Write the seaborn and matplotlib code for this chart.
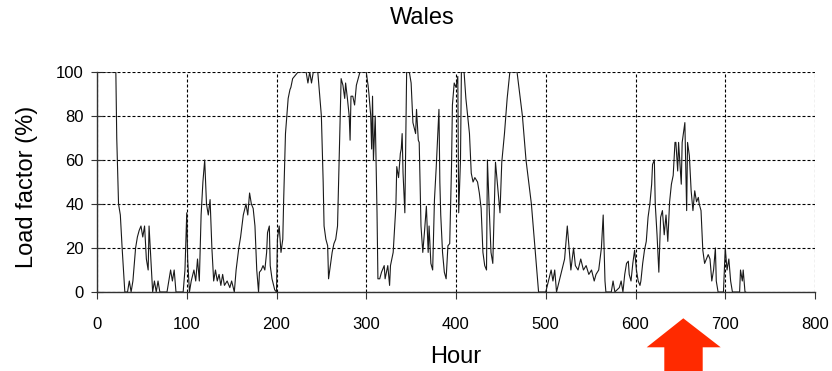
import matplotlib
matplotlib.use("Agg")
import matplotlib.pyplot as plt
import seaborn as sns
import pandas as pd
from matplotlib.patches import Polygon

# ---- data (hour, load factor %) ----
hours = [0, 21, 22, 24, 26, 28, 31, 34, 36, 38, 40, 43, 45, 47, 49, 51, 53, 55, 57, 58,
         60, 62, 64, 66, 68, 70, 78, 80, 82, 84, 86, 88, 96, 98, 100, 101, 103, 105, 108, 110,
         112, 114, 116, 118, 120, 122, 124, 126, 128, 130, 132, 134, 136, 138, 140, 142, 145, 148, 150, 153,
         155, 158, 160, 163, 166, 168, 170, 172, 174, 176, 178, 180, 181, 183, 185, 187, 189, 190, 192, 193,
         195, 198, 200, 201, 203, 205, 207, 208, 210, 213, 215, 216, 218, 220, 224, 233, 235, 237, 239, 241,
         246, 250, 252, 253, 255, 257, 258, 260, 262, 264, 266, 268, 272, 274, 276, 277, 279, 281, 282, 283,
         285, 287, 289, 291, 293, 300, 302, 303, 305, 306, 307, 308, 310, 312, 313, 315, 317, 320, 321, 324,
         326, 327, 330, 333, 334, 336, 338, 339, 340, 341, 343, 345, 348, 350, 352, 355, 356, 358, 359, 361,
         363, 365, 367, 369, 370, 372, 374, 376, 378, 380, 381, 382, 383, 385, 387, 389, 391, 393, 395, 396,
         398, 400, 402, 403, 405, 406, 409, 411, 413, 415, 417, 419, 421, 424, 426, 428, 430, 432, 434, 435,
         437, 439, 441, 444, 447, 449, 451, 454, 457, 460, 468, 471, 474, 476, 478, 481, 484, 486, 488, 490,
         492, 500, 503, 506, 508, 510, 512, 515, 518, 521, 524, 526, 528, 531, 533, 536, 539, 542, 545, 548,
         551, 554, 556, 559, 562, 564, 566, 567, 573, 575, 577, 582, 584, 586, 588, 590, 592, 593, 595, 597,
         599, 601, 603, 605, 606, 608, 610, 612, 614, 616, 618, 619, 621, 622, 624, 626, 628, 630, 632, 634,
         636, 638, 640, 642, 644, 645, 647, 648, 651, 652, 655, 657, 658, 660, 662, 664, 666, 668, 670, 671,
         673, 675, 677, 679, 681, 683, 685, 687, 689, 690, 692, 698, 700, 702, 704, 706, 708, 716, 717, 719,
         720, 722, 723]
load = [100, 100, 70, 40, 35, 20, 0, 0, 5, 0, 5, 20, 25, 28, 30, 25, 30, 15, 10, 30,
        15, 0, 5, 0, 5, 0, 0, 5, 10, 5, 10, 0, 0, 10, 36, 15, 0, 5, 10, 5,
        15, 5, 35, 50, 60, 40, 35, 42, 20, 5, 10, 5, 8, 3, 8, 3, 5, 2, 5, 0,
        10, 20, 25, 35, 40, 35, 45, 40, 38, 30, 10, 0, 9, 10, 12, 10, 18, 27, 30, 12,
        6, 1, 0, 24, 30, 18, 24, 42, 72, 88, 92, 93, 97, 98, 100, 100, 95, 100, 95, 100,
        100, 80, 50, 30, 24, 21, 6, 12, 18, 22, 24, 30, 97, 94, 88, 95, 88, 80, 69, 89,
        89, 85, 94, 97, 100, 100, 94, 90, 80, 65, 89, 60, 80, 36, 6, 6, 9, 12, 6, 12,
        3, 12, 18, 39, 57, 52, 63, 65, 72, 54, 36, 100, 100, 95, 77, 72, 83, 69, 68, 30,
        18, 28, 39, 18, 30, 13, 10, 42, 57, 75, 83, 50, 35, 18, 9, 6, 21, 22, 57, 85,
        95, 93, 98, 36, 60, 100, 100, 88, 80, 72, 54, 50, 52, 50, 45, 38, 18, 12, 10, 60,
        38, 18, 13, 59, 45, 36, 59, 72, 88, 100, 100, 90, 80, 70, 60, 50, 40, 30, 20, 10,
        0, 0, 5, 10, 5, 10, 0, 5, 10, 15, 30, 20, 10, 20, 12, 10, 15, 10, 12, 8,
        10, 5, 8, 10, 20, 35, 5, 0, 0, 5, 0, 2, 5, 0, 8, 13, 14, 8, 5, 13,
        19, 10, 5, 3, 5, 13, 19, 23, 34, 40, 49, 58, 60, 40, 26, 9, 34, 37, 26, 35,
        23, 41, 49, 53, 68, 68, 55, 68, 49, 68, 77, 37, 68, 62, 46, 37, 46, 41, 43, 40,
        37, 19, 13, 15, 17, 15, 5, 10, 20, 5, 0, 0, 20, 10, 15, 5, 0, 0, 10, 5,
        10, 0, 0]

x_ticks = [0, 100, 200, 300, 400, 500, 600, 700, 800]
y_ticks = [0, 20, 40, 60, 80, 100]
title = "Wales"
x_label = "Hour"
y_label = "Load factor (%)"

df = pd.DataFrame({"Hour": hours, "Load": load})

sns.set_theme(style="white")
plt.rcParams["font.family"] = ["Liberation Sans", "DejaVu Sans"]

W, H = 832, 371
fig = plt.figure(figsize=(W / 100, H / 100), dpi=100)
ax = fig.add_axes([97 / W, 1 - 292 / H, 718 / W, 220 / H])

sns.lineplot(data=df, x="Hour", y="Load", ax=ax, color="#1a1a1a", linewidth=0.8)

ax.set_xlim(0, 800)
ax.set_ylim(0, 100)
ax.set_xticks(x_ticks)
ax.set_yticks(y_ticks)
ax.grid(True, color="black", linestyle=(0, (2.7, 1.8)), linewidth=0.8)
ax.set_axisbelow(True)

for s in ["top", "right"]:
    ax.spines[s].set_visible(False)
for s in ["left", "bottom"]:
    ax.spines[s].set_color("#333333")
    ax.spines[s].set_linewidth(1.0)

ax.tick_params(axis="x", direction="out", length=5, width=0.8, color="#333333",
               labelsize=12, pad=13, labelcolor="black", bottom=True)
ax.tick_params(axis="y", direction="inout", length=9, width=0.8, color="#333333",
               labelsize=12, pad=5, labelcolor="black", left=True)

ax.set_xlabel(x_label, fontsize=17, color="black")
ax.xaxis.set_label_coords(0.5, -0.245)
ax.xaxis.label.set_va("top")
ax.set_ylabel(y_label, fontsize=17, color="black")
ax.yaxis.set_label_coords(-0.0975, 0.48)
ax.yaxis.label.set_va("center")

fig.text(422 / W, 1 - 18 / H, title, ha="center", va="center", fontsize=17, color="black")

# red arrow pointing at the highlighted period
pts = [(683.3, 318.3), (720.7, 347.3), (702.7, 347.3), (702.7, 371), (664.3, 371),
       (664.3, 347.3), (646.7, 347.3)]
arrow = Polygon([(x / W, 1 - y / H) for x, y in pts], closed=True,
                transform=fig.transFigure, facecolor="#ff2a00", edgecolor="none")
fig.patches.append(arrow)

fig.savefig("out.png", dpi=100, facecolor="white")
